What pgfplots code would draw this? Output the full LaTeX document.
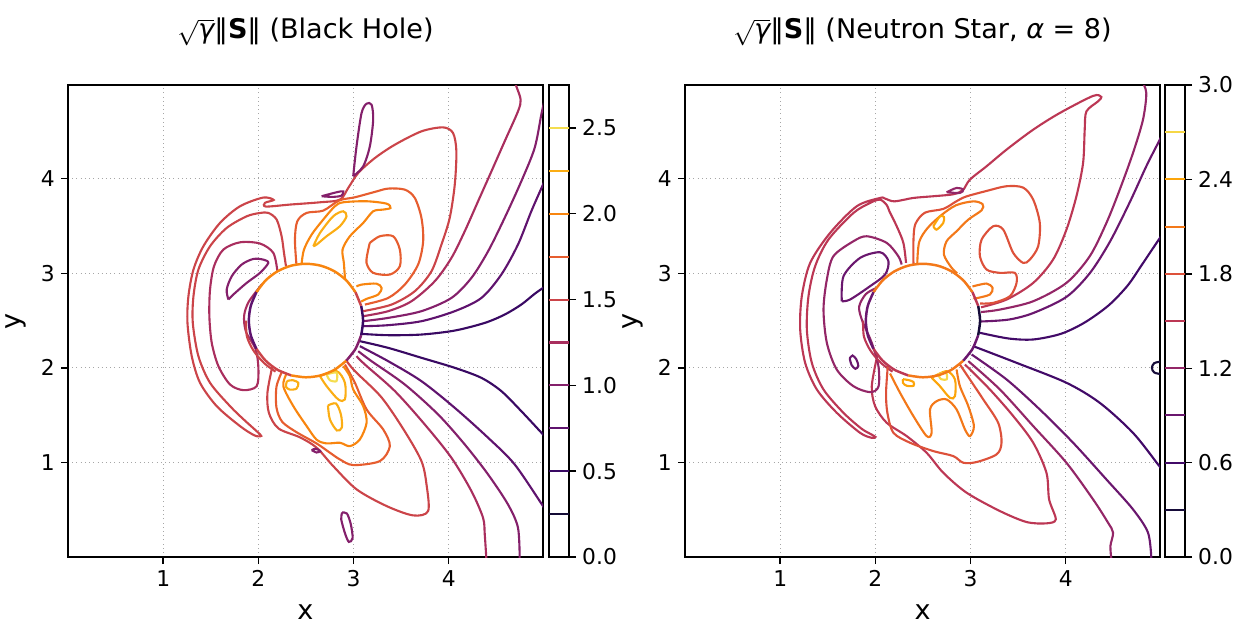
\documentclass[border=0pt]{standalone}
\usepackage{pgfplots}
\pgfplotsset{compat=1.18}
\usepackage{fontspec}
\setmainfont{DejaVu Sans}

% inferno colours of the contour levels
\definecolor{a1}{HTML}{140B35}
\definecolor{a2}{HTML}{390963}
\definecolor{a3}{HTML}{5F136E}
\definecolor{a4}{HTML}{84206B}
\definecolor{a5}{HTML}{A92E5E}
\definecolor{a6}{HTML}{CB4449}
\definecolor{a7}{HTML}{E65D2F}
\definecolor{a8}{HTML}{F8850F}
\definecolor{a9}{HTML}{FBAD14}
\definecolor{a10}{HTML}{F4DD4F}
\definecolor{b1}{HTML}{160B39}
\definecolor{b2}{HTML}{420A68}
\definecolor{b3}{HTML}{6A176E}
\definecolor{b4}{HTML}{932667}
\definecolor{b5}{HTML}{BC3754}
\definecolor{b6}{HTML}{DD513A}
\definecolor{b7}{HTML}{F37819}
\definecolor{b8}{HTML}{FCA50A}
\definecolor{b9}{HTML}{F6D746}

\pgfplotsset{
  cmap/.style={scale only axis, width=9.5cm, height=9.44cm,
    xmin=0, xmax=4.99, ymin=0, ymax=4.99,
    xtick={1,2,3,4}, ytick={1,2,3,4},
    tick align=outside, tick pos=left, major tick length=0.14cm,
    grid=major, grid style={dotted, black!35, line width=0.6pt},
    axis line style={line width=0.8pt}, tick style={black, line width=0.8pt},
    tick label style={font=\fontsize{12.4}{14}\selectfont},
    /pgf/number format/assume math mode=true,
    xlabel={x}, ylabel={y},
    label style={font=\fontsize{15.4}{18}\selectfont},
    xlabel style={at={(axis description cs:0.5,-0.116)}, anchor=center},
    ylabel style={at={(axis description cs:-0.11,0.5)}, anchor=center},
    title style={at={(axis description cs:0.5,1)}, anchor=center, yshift=0.86cm,
      font=\fontsize{15.4}{18}\selectfont},
    no markers,
    every axis plot/.append style={line width=1.2pt, smooth}},
  cbar/.style={scale only axis, width=0.4cm, height=9.44cm,
    xmin=0, xmax=1, ymin=0, xtick=\empty,
    ytick pos=right, yticklabel pos=right,
    tick align=outside, major tick length=0.14cm,
    axis line style={line width=0.8pt}, tick style={black, line width=0.8pt},
    tick label style={font=\fontsize{12.4}{14}\selectfont},
    /pgf/number format/assume math mode=true,
    yticklabel style={/pgf/number format/.cd, fixed, fixed zerofill, precision=1},
    no markers,
    every axis plot/.append style={line width=1.2pt}}
}

\begin{document}
\begin{tikzpicture}
\path[use as bounding box] (0cm,0cm) rectangle (24.8cm,-12.58cm);

% ---------------- black hole ----------------
\begin{axis}[cmap, at={(1.36cm,-1.70cm)}, anchor=north west,
  title={$\sqrt{\mbox{\itshape γ}}$‖\textbf{S}‖ (Black Hole)}]
% right side, upper family
\addplot[a2] coordinates {(3.084,2.359)(3.364,2.345)(3.713,2.352)(4.063,2.394)(4.378,2.475)(4.587,2.563)(4.762,2.669)(4.902,2.782)(4.99,2.845)(5.05,2.89)};
\addplot[a3] coordinates {(3.101,2.440)(3.364,2.451)(3.713,2.493)(4.063,2.599)(4.343,2.739)(4.552,2.986)(4.727,3.303)(4.867,3.655)(4.99,3.937)(5.03,4.03)};
\addplot[a4] coordinates {(3.101,2.493)(3.364,2.528)(3.713,2.599)(4.028,2.739)(4.238,2.951)(4.413,3.232)(4.587,3.585)(4.762,3.972)(4.902,4.324)(4.972,4.676)(5.0,4.8)};
\addplot[a5] coordinates {(3.101,2.546)(3.364,2.599)(3.608,2.704)(3.853,2.916)(4.028,3.162)(4.168,3.444)(4.308,3.761)(4.448,4.077)(4.587,4.394)(4.727,4.711)(4.755,4.835)(4.71,4.975)(4.69,5.03)};
% right side, lower family
\addplot[a2] coordinates {(3.066,2.282)(3.364,2.211)(3.713,2.106)(4.063,2.0)(4.343,1.894)(4.552,1.754)(4.762,1.542)(4.99,1.296)(5.05,1.23)};
\addplot[a3] coordinates {(3.066,2.229)(3.364,2.070)(3.713,1.859)(4.063,1.577)(4.413,1.261)(4.692,0.979)(4.99,0.539)(5.03,0.48)};
\addplot[a4] coordinates {(3.049,2.176)(3.189,2.070)(3.538,1.824)(3.888,1.507)(4.168,1.190)(4.413,0.873)(4.622,0.556)(4.727,0.310)(4.745,-0.02)};
\addplot[a5] coordinates {(3.031,2.123)(3.119,2.035)(3.434,1.754)(3.748,1.401)(4.028,1.049)(4.238,0.697)(4.360,0.415)(4.378,0.239)(4.395,-0.02)};
% lobes and the long arcs on the left
\addplot[a6] coordinates {(2.924,2.076)(3.014,1.965)(3.294,1.687)(3.538,1.328)(3.713,1.014)(3.766,0.768)(3.783,0.486)(3.625,0.440)(3.346,0.539)(3.032,0.715)(2.786,0.961)(2.612,1.156)(2.437,1.265)(2.21,1.36)(2.11,1.525)(2.095,1.737)(2.147,2.015)};
\addplot[a6] coordinates {(3.101,2.599)(3.399,2.669)(3.643,2.810)(3.818,3.021)(3.923,3.303)(4.010,3.585)(4.063,3.937)(4.080,4.289)(4.045,4.482)(3.941,4.542)(3.713,4.500)(3.434,4.359)(3.224,4.218)(3.049,4.060)(2.944,3.902)(2.856,3.778)(2.647,3.750)(2.332,3.726)(2.08,3.705)(2.07,3.745)(2.16,3.775)(2.05,3.80)(1.807,3.708)(1.597,3.532)(1.422,3.285)(1.318,3.039)(1.265,2.757)(1.255,2.475)(1.30,2.123)(1.387,1.842)(1.562,1.595)(1.807,1.384)(1.96,1.285)(2.03,1.28)(1.982,1.33)(1.85,1.45)(1.702,1.595)(1.492,1.842)(1.370,2.123)(1.311,2.475)(1.318,2.757)(1.370,3.039)(1.492,3.285)(1.667,3.479)(1.877,3.602)(2.017,3.637)(2.105,3.638)(2.192,3.567)(2.244,3.391)(2.269,3.215)(2.290,3.074)};
\addplot[a5] coordinates {(2.20,3.02)(2.157,3.215)(2.017,3.314)(1.807,3.327)(1.632,3.250)(1.534,3.074)(1.492,2.827)(1.485,2.546)(1.510,2.264)(1.580,2.018)(1.702,1.824)(1.842,1.764)(1.982,1.806)(2.00,2.0)(1.97,2.2)(1.87,2.38)(1.85,2.55)(1.90,2.70)(2.04,2.886)};
\addplot[a4] coordinates {(1.685,2.722)(1.667,2.827)(1.720,2.968)(1.825,3.092)(1.947,3.151)(2.052,3.144)(2.104,3.109)(2.017,3.004)(1.877,2.898)(1.737,2.775)(1.685,2.722)};
\addplot[a6] coordinates {(1.87,2.50)(1.88,2.33)(1.95,2.18)(2.06,2.05)(2.18,1.96)};
% upper orange structure
\addplot[a7] coordinates {(3.119,2.669)(3.364,2.739)(3.538,2.880)(3.678,3.092)(3.731,3.338)(3.713,3.585)(3.643,3.796)(3.538,3.884)(3.364,3.895)(3.224,3.860)(3.014,3.803)(2.85,3.77)(2.681,3.662)(2.507,3.638)(2.409,3.550)(2.384,3.356)(2.40,3.09)};
\addplot[a8] coordinates {(2.454,3.10)(2.479,3.250)(2.559,3.408)(2.681,3.567)(2.804,3.708)(2.891,3.750)(3.136,3.761)(3.346,3.736)(3.388,3.690)(3.311,3.673)(3.206,3.655)(3.101,3.532)(2.961,3.391)(2.884,3.250)(2.898,3.109)(2.91,2.94)};
\addplot[a9] coordinates {(2.577,3.285)(2.647,3.426)(2.786,3.602)(2.891,3.655)(2.926,3.602)(2.856,3.497)(2.716,3.391)(2.612,3.303)(2.577,3.285)};
\addplot[a7] coordinates {(3.171,3.321)(3.276,3.391)(3.416,3.391)(3.486,3.250)(3.486,3.074)(3.381,2.986)(3.206,3.004)(3.136,3.109)(3.154,3.250)(3.171,3.321)};
\addplot[a8] coordinates {(3.03,2.86)(3.084,2.880)(3.241,2.890)(3.294,2.845)(3.259,2.775)(3.136,2.729)(3.08,2.70)};
\addplot[a4] coordinates {(2.996,4.025)(3.031,4.342)(3.084,4.694)(3.136,4.792)(3.189,4.782)(3.206,4.623)(3.171,4.342)(3.101,4.130)(2.996,4.025)};
\addplot[a4] coordinates {(2.664,3.814)(2.821,3.856)(2.891,3.866)(2.874,3.821)(2.786,3.807)(2.664,3.814)};
% lower orange structure
\addplot[a7] coordinates {(2.909,2.035)(3.014,1.842)(3.137,1.560)(3.311,1.349)(3.381,1.172)(3.276,1.014)(2.996,0.972)(2.856,1.032)(2.751,1.103)(2.612,1.20)(2.40,1.32)(2.25,1.43)(2.19,1.58)(2.19,1.80)(2.246,1.956)};
\addplot[a8] coordinates {(2.295,1.936)(2.262,1.806)(2.367,1.595)(2.507,1.384)(2.612,1.240)(2.717,1.201)(2.856,1.208)(2.961,1.172)(3.066,1.243)(3.137,1.420)(3.101,1.595)(2.996,1.771)(2.961,1.912)(2.891,2.018)};
\addplot[a9] coordinates {(2.30,1.86)(2.36,1.87)(2.42,1.84)(2.40,1.78)(2.33,1.77)(2.29,1.80)(2.30,1.86)};
\addplot[a9] coordinates {(2.731,1.602)(2.815,1.623)(2.867,1.507)(2.877,1.370)(2.825,1.338)(2.751,1.455)(2.731,1.602)};
\addplot[a9] coordinates {(2.647,1.912)(2.822,1.965)(2.909,1.842)(2.909,1.666)(2.839,1.666)(2.717,1.806)(2.647,1.912)};
\addplot[a10] coordinates {(2.717,1.93)(2.82,1.95)(2.82,1.86)(2.75,1.87)(2.717,1.93)};
\addplot[a4] coordinates {(2.56,1.13)(2.60,1.145)(2.65,1.12)(2.61,1.105)(2.56,1.13)};
\addplot[a4] coordinates {(2.88,0.47)(2.93,0.46)(2.97,0.35)(2.99,0.20)(2.95,0.16)(2.91,0.25)(2.87,0.40)(2.88,0.47)};
% circle boundary
\addplot[a8, line width=1.4pt] coordinates {(3.020,2.800)(2.924,2.924)(2.800,3.020)(2.655,3.080)(2.500,3.100)(2.345,3.080)(2.200,3.020)(2.076,2.924)(1.980,2.800)};
\addplot[a3, line width=1.4pt] coordinates {(1.980,2.800)(1.920,2.655)(1.900,2.500)(1.920,2.345)(1.980,2.200)};
\addplot[a6, line width=1.4pt] coordinates {(1.980,2.200)(2.076,2.076)(2.200,1.980)(2.345,1.920)};
\addplot[a8, line width=1.4pt] coordinates {(2.345,1.920)(2.500,1.900)(2.655,1.920)(2.800,1.980)(2.924,2.076)};
\addplot[a4, line width=1.4pt] coordinates {(2.924,2.076)(3.020,2.200)(3.080,2.345)};
\addplot[a2, line width=1.4pt] coordinates {(3.080,2.345)(3.100,2.500)(3.080,2.655)};
\addplot[a6, line width=1.4pt] coordinates {(3.080,2.655)(3.020,2.800)};
\end{axis}

\begin{axis}[cbar, at={(10.98cm,-1.70cm)}, anchor=north west, ymax=2.75, ytick={0,0.5,1.0,1.5,2.0,2.5}]
\addplot[a1] coordinates {(0,0.25)(1,0.25)};
\addplot[a2] coordinates {(0,0.50)(1,0.50)};
\addplot[a3] coordinates {(0,0.75)(1,0.75)};
\addplot[a4] coordinates {(0,1.00)(1,1.00)};
\addplot[a5] coordinates {(0,1.25)(1,1.25)};
\addplot[a6] coordinates {(0,1.50)(1,1.50)};
\addplot[a7] coordinates {(0,1.75)(1,1.75)};
\addplot[a8] coordinates {(0,2.00)(1,2.00)};
\addplot[a9] coordinates {(0,2.25)(1,2.25)};
\addplot[a10] coordinates {(0,2.50)(1,2.50)};
\end{axis}

% ---------------- neutron star ----------------
\begin{axis}[cmap, at={(13.70cm,-1.70cm)}, anchor=north west,
  title={$\sqrt{\mbox{\itshape γ}}$‖\textbf{S}‖ (Neutron Star, {\itshape α} = 8)}]
% right side families
\addplot[b2] coordinates {(3.10,2.37)(3.40,2.31)(3.66,2.30)(3.95,2.36)(4.20,2.48)(4.45,2.66)(4.65,2.87)(4.80,3.09)(4.98,3.36)(5.03,3.43)};
\addplot[b3] coordinates {(3.11,2.49)(3.40,2.51)(3.66,2.58)(4.007,2.75)(4.252,3.00)(4.462,3.33)(4.672,3.75)(4.846,4.131)(4.979,4.395)(5.02,4.48)};
\addplot[b4] coordinates {(3.11,2.59)(3.308,2.616)(3.658,2.704)(4.007,2.898)(4.252,3.180)(4.427,3.532)(4.567,3.884)(4.706,4.271)(4.811,4.623)(4.846,4.905)(4.80,5.03)};
\addplot[b2] coordinates {(3.028,2.229)(3.483,2.053)(4.007,1.842)(4.357,1.630)(4.706,1.313)(4.969,0.979)(5.03,0.90)};
\addplot[b3] coordinates {(3.011,2.141)(3.378,1.877)(3.727,1.560)(4.077,1.208)(4.427,0.820)(4.706,0.504)(4.864,0.257)(4.899,-0.02)};
\addplot[b4] coordinates {(2.976,2.071)(3.308,1.771)(3.658,1.384)(4.007,0.996)(4.287,0.609)(4.444,0.363)(4.497,0.257)(4.469,0.116)(4.479,-0.02)};
\addplot[b1] coordinates {(5.02,2.07)(4.93,2.05)(4.905,2.0)(4.93,1.95)(5.02,1.93)};
% lobes and the long arcs on the left
\addplot[b5] coordinates {(3.11,2.64)(3.378,2.722)(3.658,2.898)(3.867,3.145)(4.007,3.461)(4.112,3.814)(4.182,4.166)(4.199,4.518)(4.217,4.711)(4.339,4.817)(4.374,4.863)(4.287,4.875)(3.937,4.694)(3.658,4.518)(3.378,4.307)(3.168,4.131)(2.993,3.990)(2.92,3.88)(2.818,3.835)(2.608,3.814)(2.399,3.796)(2.20,3.76)(2.10,3.79)(2.049,3.796)(1.804,3.708)(1.524,3.426)(1.315,3.109)(1.227,2.757)(1.210,2.405)(1.262,2.053)(1.385,1.771)(1.594,1.525)(1.839,1.313)(1.962,1.260)(2.0,1.27)(1.95,1.30)(1.85,1.36)(1.664,1.525)(1.455,1.771)(1.332,2.053)(1.280,2.405)(1.297,2.757)(1.367,3.074)(1.507,3.356)(1.769,3.637)(1.944,3.743)(2.049,3.778)(2.12,3.72)(2.147,3.655)(2.224,3.497)(2.294,3.321)(2.322,3.11)};
\addplot[b5] coordinates {(2.941,2.035)(3.203,1.771)(3.448,1.490)(3.658,1.208)(3.797,0.891)(3.825,0.609)(3.895,0.398)(3.797,0.356)(3.588,0.370)(3.308,0.486)(2.958,0.680)(2.713,0.891)(2.538,1.102)(2.329,1.278)(2.119,1.419)(1.997,1.595)(1.962,1.806)(2.02,2.13)};
\addplot[b4] coordinates {(2.276,3.092)(2.241,3.180)(2.119,3.321)(1.909,3.391)(1.769,3.338)(1.559,3.180)(1.490,2.933)(1.455,2.616)(1.490,2.264)(1.594,1.982)(1.769,1.806)(1.944,1.743)(2.032,1.80)(2.032,2.018)(1.962,2.264)(1.857,2.511)(1.83,2.65)(1.90,2.78)(2.009,2.844)};
\addplot[b3] coordinates {(1.647,2.704)(1.665,2.968)(1.839,3.162)(2.049,3.222)(2.137,3.127)(2.102,2.986)(1.944,2.863)(1.734,2.722)(1.647,2.704)};
\addplot[b3] coordinates {(1.73,2.10)(1.76,2.13)(1.80,2.09)(1.82,2.02)(1.79,1.99)(1.75,2.03)(1.73,2.10)};
\addplot[b5] coordinates {(1.87,2.50)(1.88,2.33)(1.95,2.18)(2.06,2.05)(2.18,1.96)};
\addplot[b4] coordinates {(2.748,3.856)(2.853,3.902)(2.923,3.884)(2.888,3.849)(2.748,3.856)};
% upper orange structure
\addplot[b6] coordinates {(2.40,3.10)(2.40,3.35)(2.42,3.52)(2.52,3.64)(2.713,3.68)(2.85,3.76)(2.95,3.81)(3.168,3.870)(3.378,3.920)(3.553,3.905)(3.658,3.778)(3.727,3.532)(3.710,3.285)(3.623,3.145)(3.553,3.109)(3.448,3.215)(3.343,3.461)(3.238,3.497)(3.116,3.356)(3.098,3.180)(3.168,3.039)(3.308,3.004)(3.465,3.004)(3.483,2.898)(3.413,2.757)(3.238,2.687)(3.10,2.68)};
\addplot[b7] coordinates {(2.44,3.10)(2.46,3.33)(2.55,3.48)(2.70,3.62)(2.85,3.72)(3.03,3.76)(3.126,3.73)(3.116,3.666)(2.976,3.567)(2.853,3.444)(2.748,3.338)(2.720,3.197)(2.801,3.057)(2.86,3.0)};
\addplot[b7] coordinates {(3.02,2.86)(3.168,2.891)(3.231,2.845)(3.203,2.775)(3.063,2.736)(3.06,2.74)};
\addplot[b8] coordinates {(2.609,3.497)(2.678,3.602)(2.720,3.595)(2.713,3.532)(2.643,3.461)(2.609,3.497)};
% lower orange structure
\addplot[b6] coordinates {(2.888,2.035)(2.993,1.877)(3.133,1.666)(3.290,1.419)(3.325,1.208)(3.273,1.085)(3.063,1.004)(2.923,0.997)(2.818,1.067)(2.608,1.120)(2.364,1.208)(2.189,1.314)(2.126,1.525)(2.112,1.736)(2.131,2.027)};
\addplot[b7] coordinates {(2.154,1.940)(2.259,1.736)(2.399,1.490)(2.539,1.278)(2.591,1.314)(2.574,1.560)(2.644,1.648)(2.748,1.666)(2.853,1.560)(2.941,1.349)(2.993,1.278)(3.035,1.384)(2.976,1.595)(2.888,1.806)(2.853,1.983)};
\addplot[b8] coordinates {(2.29,1.88)(2.35,1.87)(2.40,1.85)(2.40,1.81)(2.33,1.81)(2.29,1.84)(2.29,1.88)};
\addplot[b8] coordinates {(2.591,1.895)(2.748,1.965)(2.836,1.877)(2.836,1.701)(2.783,1.683)(2.678,1.806)(2.591,1.895)};
\addplot[b9] coordinates {(2.66,1.93)(2.74,1.95)(2.75,1.88)(2.69,1.88)(2.66,1.93)};
% circle boundary
\addplot[b7, line width=1.4pt] coordinates {(3.020,2.800)(2.924,2.924)(2.800,3.020)(2.655,3.080)(2.500,3.100)(2.345,3.080)(2.200,3.020)(2.076,2.924)(1.980,2.800)};
\addplot[b3, line width=1.4pt] coordinates {(1.980,2.800)(1.920,2.655)(1.900,2.500)(1.920,2.345)(1.980,2.200)};
\addplot[b5, line width=1.4pt] coordinates {(1.980,2.200)(2.076,2.076)(2.200,1.980)(2.345,1.920)};
\addplot[b7, line width=1.4pt] coordinates {(2.345,1.920)(2.500,1.900)(2.655,1.920)(2.800,1.980)(2.924,2.076)};
\addplot[b3, line width=1.4pt] coordinates {(2.924,2.076)(3.020,2.200)(3.080,2.345)};
\addplot[b1, line width=1.4pt] coordinates {(3.080,2.345)(3.100,2.500)(3.080,2.655)};
\addplot[b5, line width=1.4pt] coordinates {(3.080,2.655)(3.020,2.800)};
\end{axis}

\begin{axis}[cbar, at={(23.30cm,-1.70cm)}, anchor=north west, ymax=3.0, ytick={0,0.6,1.2,1.8,2.4,3.0}]
\addplot[b1] coordinates {(0,0.3)(1,0.3)};
\addplot[b2] coordinates {(0,0.6)(1,0.6)};
\addplot[b3] coordinates {(0,0.9)(1,0.9)};
\addplot[b4] coordinates {(0,1.2)(1,1.2)};
\addplot[b5] coordinates {(0,1.5)(1,1.5)};
\addplot[b6] coordinates {(0,1.8)(1,1.8)};
\addplot[b7] coordinates {(0,2.1)(1,2.1)};
\addplot[b8] coordinates {(0,2.4)(1,2.4)};
\addplot[b9] coordinates {(0,2.7)(1,2.7)};
\end{axis}
\end{tikzpicture}
\end{document}
